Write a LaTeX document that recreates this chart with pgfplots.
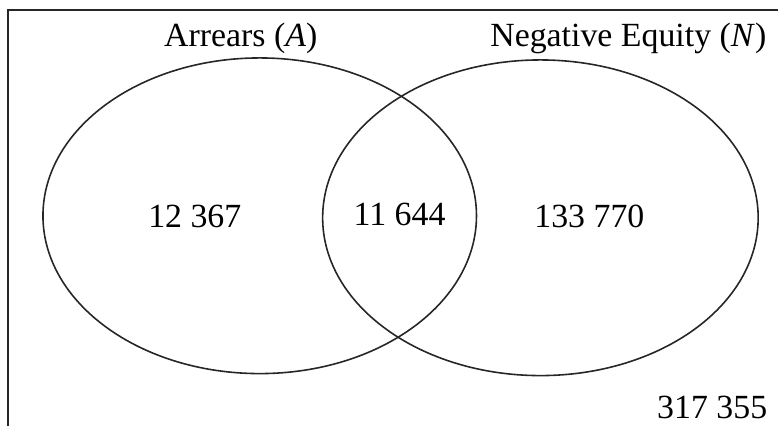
\documentclass[border=0pt]{standalone}
\usepackage{fontspec}
\setmainfont{Liberation Serif}
\usepackage{pgfplots}
\pgfplotsset{compat=1.18}
\begin{document}
\begin{tikzpicture}
\begin{axis}[
  scale only axis, width=779bp, height=426bp,
  xmin=0, xmax=779, ymin=0, ymax=426,
  hide axis, clip=false,
]
\path (axis cs:0,0) rectangle (axis cs:779,426);
\draw[line width=1.7pt, black!85] (axis cs:8,0) -- (axis cs:8,416) -- (axis cs:779,416);
\draw[line width=1.6pt, black!85] (axis cs:260,210) ellipse [x radius=217, y radius=158];
\draw[line width=1.6pt, black!85] (axis cs:541,208) ellipse [x radius=218, y radius=158];
\node[font=\fontsize{34}{40}\selectfont] at (axis cs:241,388) {Arrears (\textit{A})};
\node[font=\fontsize{34}{40}\selectfont] at (axis cs:629,388) {Negative Equity (\textit{N})};
\node[font=\fontsize{34}{40}\selectfont] at (axis cs:195,209) {12 367};
\node[font=\fontsize{34}{40}\selectfont] at (axis cs:400,211) {11 644};
\node[font=\fontsize{34}{40}\selectfont] at (axis cs:590,209) {133 770};
\node[font=\fontsize{34}{40}\selectfont] at (axis cs:713,18) {317 355};
\end{axis}
\end{tikzpicture}
\end{document}
